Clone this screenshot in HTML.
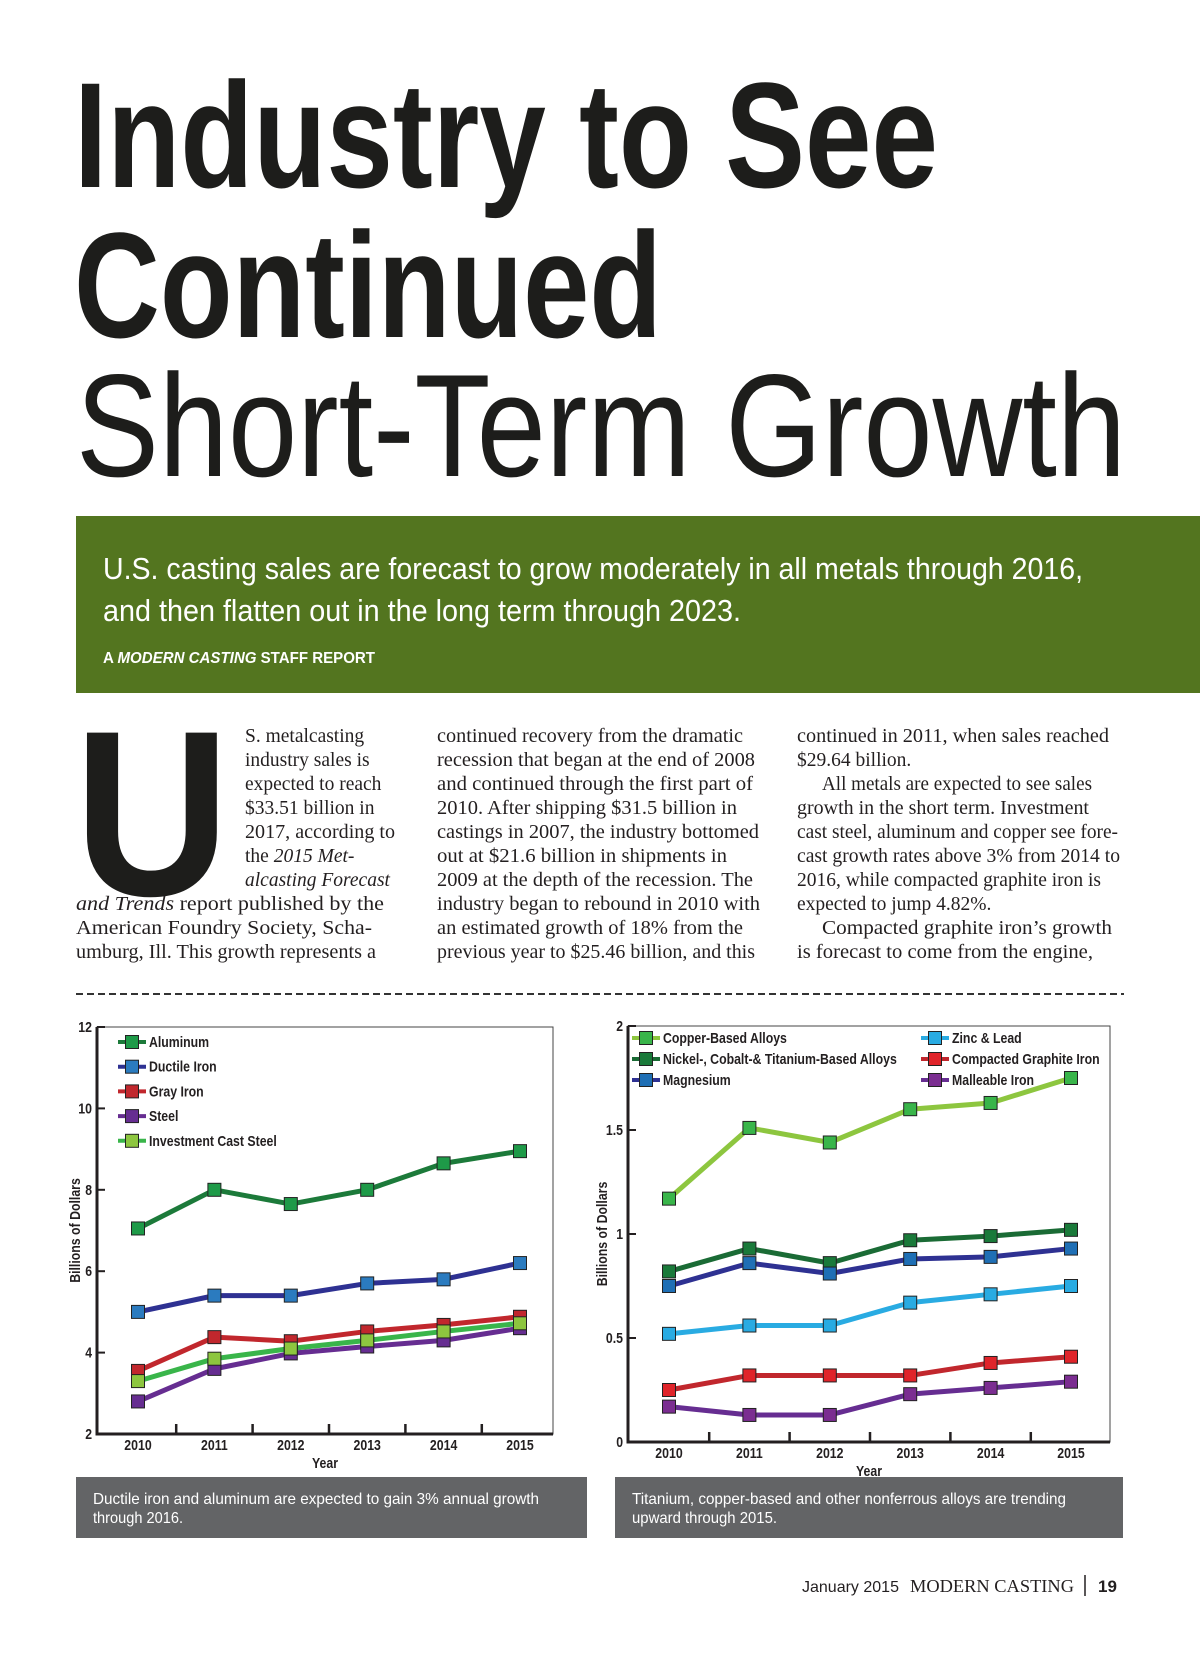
<!DOCTYPE html>
<html><head><meta charset="utf-8"><style>
html,body{margin:0;padding:0;background:#fff;}
svg{display:block;}
.cond{font-family:"Liberation Sans Narrow","Liberation Sans",sans-serif;}
.serif{font-family:"Liberation Serif",serif;font-size:19.5px;fill:#231f20;}
.lbl{font-family:"Liberation Sans Narrow","Liberation Sans",sans-serif;font-weight:bold;font-size:15px;fill:#231f20;}
</style></head><body>
<svg id="page" width="1200" height="1657" viewBox="0 0 1200 1657" xmlns="http://www.w3.org/2000/svg">
<g fill="#1d1d1b">
<text class="cond" x="74" y="187" font-size="150" font-weight="bold" textLength="864" lengthAdjust="spacingAndGlyphs">Industry to See</text>
<text class="cond" x="74" y="337" font-size="150" font-weight="bold" textLength="588" lengthAdjust="spacingAndGlyphs">Continued</text>
<text class="cond" x="76" y="476" font-size="146" textLength="1050" lengthAdjust="spacingAndGlyphs">Short-Term Growth</text>
</g>
<g>
<rect x="76" y="516" width="1124" height="177" fill="#53751f"/>
<text class="cond" x="103" y="579" font-size="31" fill="#fff" textLength="980" lengthAdjust="spacingAndGlyphs">U.S. casting sales are forecast to grow moderately in all metals through 2016,</text>
<text class="cond" x="103" y="621" font-size="31" fill="#fff" textLength="638" lengthAdjust="spacingAndGlyphs">and then flatten out in the long term through 2023.</text>
<text class="cond" x="103" y="663" font-size="16" font-weight="bold" fill="#fff" textLength="272" lengthAdjust="spacingAndGlyphs">A <tspan font-style="italic">MODERN CASTING</tspan> STAFF REPORT</text>
</g>
<g>
<text x="74" y="895" font-family="Liberation Sans,sans-serif" font-weight="bold" font-size="236" fill="#1d1d1b" textLength="156" lengthAdjust="spacingAndGlyphs">U</text>
<g class="serif">
<text x="245" y="742">S. metalcasting</text>
<text x="245" y="766">industry sales is</text>
<text x="245" y="790">expected to reach</text>
<text x="245" y="814">$33.51 billion in</text>
<text x="245" y="838" textLength="150" lengthAdjust="spacingAndGlyphs">2017, according to</text>
<text x="245" y="862">the <tspan font-style="italic">2015 Met-</tspan></text>
<text x="245" y="886" font-style="italic">alcasting Forecast</text>
<text x="76" y="910" textLength="308" lengthAdjust="spacingAndGlyphs"><tspan font-style="italic">and Trends</tspan> report published by the</text>
<text x="76" y="934" textLength="296" lengthAdjust="spacingAndGlyphs">American Foundry Society, Scha-</text>
<text x="76" y="958" textLength="300" lengthAdjust="spacingAndGlyphs">umburg, Ill. This growth represents a</text>
</g>
<g class="serif">
<text x="437" y="742" textLength="306" lengthAdjust="spacingAndGlyphs">continued recovery from the dramatic</text>
<text x="437" y="766" textLength="318" lengthAdjust="spacingAndGlyphs">recession that began at the end of 2008</text>
<text x="437" y="790" textLength="316" lengthAdjust="spacingAndGlyphs">and continued through the first part of</text>
<text x="437" y="814" textLength="300" lengthAdjust="spacingAndGlyphs">2010. After shipping $31.5 billion in</text>
<text x="437" y="838" textLength="322" lengthAdjust="spacingAndGlyphs">castings in 2007, the industry bottomed</text>
<text x="437" y="862" textLength="290" lengthAdjust="spacingAndGlyphs">out at $21.6 billion in shipments in</text>
<text x="437" y="886" textLength="316" lengthAdjust="spacingAndGlyphs">2009 at the depth of the recession. The</text>
<text x="437" y="910" textLength="323" lengthAdjust="spacingAndGlyphs">industry began to rebound in 2010 with</text>
<text x="437" y="934" textLength="306" lengthAdjust="spacingAndGlyphs">an estimated growth of 18% from the</text>
<text x="437" y="958" textLength="318" lengthAdjust="spacingAndGlyphs">previous year to $25.46 billion, and this</text>
</g>
<g class="serif">
<text x="797" y="742" textLength="312" lengthAdjust="spacingAndGlyphs">continued in 2011, when sales reached</text>
<text x="797" y="766">$29.64 billion.</text>
<text x="822" y="790" textLength="270" lengthAdjust="spacingAndGlyphs">All metals are expected to see sales</text>
<text x="797" y="814" textLength="292" lengthAdjust="spacingAndGlyphs">growth in the short term. Investment</text>
<text x="797" y="838" textLength="321" lengthAdjust="spacingAndGlyphs">cast steel, aluminum and copper see fore-</text>
<text x="797" y="862" textLength="323" lengthAdjust="spacingAndGlyphs">cast growth rates above 3% from 2014 to</text>
<text x="797" y="886" textLength="304" lengthAdjust="spacingAndGlyphs">2016, while compacted graphite iron is</text>
<text x="797" y="910">expected to jump 4.82%.</text>
<text x="822" y="934" textLength="290" lengthAdjust="spacingAndGlyphs">Compacted graphite iron’s growth</text>
<text x="797" y="958" textLength="296" lengthAdjust="spacingAndGlyphs">is forecast to come from the engine,</text>
</g>
</g>
<line x1="76" y1="994" x2="1124" y2="994" stroke="#333" stroke-width="2" stroke-dasharray="7,4"/>

<g id="chartL"></g>
<g id="chartR"></g>

<g>
<rect x="76" y="1477" width="511" height="61" fill="#636466"/>
<text class="cond" x="93" y="1504" font-size="16" fill="#fff" textLength="446" lengthAdjust="spacingAndGlyphs">Ductile iron and aluminum are expected to gain 3% annual growth</text>
<text class="cond" x="93" y="1523" font-size="16" fill="#fff" textLength="90" lengthAdjust="spacingAndGlyphs">through 2016.</text>
</g>
<g>
<rect x="615" y="1477" width="508" height="61" fill="#636466"/>
<text class="cond" x="632" y="1504" font-size="16" fill="#fff" textLength="434" lengthAdjust="spacingAndGlyphs">Titanium, copper-based and other nonferrous alloys are trending</text>
<text class="cond" x="632" y="1523" font-size="16" fill="#fff" textLength="145" lengthAdjust="spacingAndGlyphs">upward through 2015.</text>
</g>
<g fill="#231f20">
<text x="802" y="1592" font-family="Liberation Sans,sans-serif" font-size="16">January 2015</text>
<text x="910" y="1592" font-family="Liberation Serif,serif" font-size="18" textLength="164" lengthAdjust="spacingAndGlyphs">MODERN CASTING</text>
<line x1="1085" y1="1575" x2="1085" y2="1596" stroke="#231f20" stroke-width="1.5"/>
<text x="1098" y="1592" font-family="Liberation Sans,sans-serif" font-size="17" font-weight="bold">19</text>
</g>
</svg>
<script>
const years = [2010, 2011, 2012, 2013, 2014, 2015];
const leftNames = ["Aluminum", "Ductile Iron", "Gray Iron", "Steel", "Investment Cast Steel"];
const aluminum = [7.05, 8.0, 7.65, 8.0, 8.65, 8.95];
const ductileIron = [5.0, 5.4, 5.4, 5.7, 5.8, 6.2];
const grayIron = [3.55, 4.38, 4.28, 4.52, 4.68, 4.88];
const steel = [2.8, 3.6, 3.98, 4.15, 4.3, 4.6];
const investmentCastSteel = [3.3, 3.85, 4.1, 4.3, 4.52, 4.72];
const leftTicks = [2, 4, 6, 8, 10, 12];
const rightNames = ["Copper-Based Alloys", "Nickel-, Cobalt-& Titanium-Based Alloys", "Magnesium", "Zinc & Lead", "Compacted Graphite Iron", "Malleable Iron"];
const copperBased = [1.17, 1.51, 1.44, 1.60, 1.63, 1.75];
const nickelCobaltTitanium = [0.82, 0.93, 0.86, 0.97, 0.99, 1.02];
const magnesium = [0.75, 0.86, 0.81, 0.88, 0.89, 0.93];
const zincLead = [0.52, 0.56, 0.56, 0.67, 0.71, 0.75];
const compactedGraphite = [0.25, 0.32, 0.32, 0.32, 0.38, 0.41];
const malleableIron = [0.17, 0.13, 0.13, 0.23, 0.26, 0.29];
const rightTicks = [0, 0.5, 1, 1.5, 2];
const rightTickLabels = ["0", "0.5", "1", "1.5", "2"];

const NS = "http://www.w3.org/2000/svg";
function mk(tag, attrs, parent) {
  const e = document.createElementNS(NS, tag);
  for (const k in attrs) e.setAttribute(k, attrs[k]);
  parent.appendChild(e);
  return e;
}
function slug(s){return s.toLowerCase().replace(/[^a-z0-9]+/g,'-').replace(/^-|-$/g,'');}

function drawChart(g, cfg) {
  const {x0,x1,y0,y1,ymin,ymax,xFirst,xLast,series,lines,marks,names,ticks,tickLabels,titleX,xLabelY,yearY} = cfg;
  const xs = i => xFirst + (xLast - xFirst) * i / (years.length - 1);
  const ys = v => y1 - (v - ymin) / (ymax - ymin) * (y1 - y0);
  const frame = mk("rect", {x:x0, y:y0, width:x1-x0, height:y1-y0, fill:"none", stroke:"#444", "stroke-width":1}, g);
  
  
  const ax = mk("path", {d:`M${x0} ${y0} V${y1} H${x1}`, fill:"none", stroke:"#231f20", "stroke-width":3}, g);
  
  
  ticks.forEach((t, i) => {
    const tk = mk("line", {x1:x0, x2:x0+8, y1:ys(t), y2:ys(t), stroke:"#231f20", "stroke-width":2}, g);
    
    
    const tl = mk("text", {x:x0-5, y:ys(t)+5, "text-anchor":"end", class:"lbl"}, g);
    
    
    tl.textContent = tickLabels[i];
  });
  years.forEach((yr, i) => {
    if (i > 0) {
      const xm = (xs(i) + xs(i-1)) / 2;
      const tk = mk("line", {x1:xm, x2:xm, y1:y1, y2:y1-10, stroke:"#231f20", "stroke-width":2.5}, g);
      
      
    }
    const tl = mk("text", {x:xs(i), y:xLabelY, "text-anchor":"middle", class:"lbl"}, g);
    
    
    tl.textContent = yr;
  });
  const yt = mk("text", {x:(x0+x1)/2, y:yearY, "text-anchor":"middle", class:"lbl", "font-size":16}, g);
  
  
  yt.textContent = "Year";
  const ytt = mk("text", {x:0, y:0, "text-anchor":"middle", class:"lbl", transform:`translate(${titleX},${(y0+y1)/2}) rotate(-90)`}, g);
  
  
  ytt.textContent = "Billions of Dollars";
  series.forEach((vals, s) => {
    const pts = vals.map((v, i) => xs(i) + "," + ys(v)).join(" ");
    const pl = mk("polyline", {points:pts, fill:"none", stroke:lines[s], "stroke-width":5, "stroke-linejoin":"round"}, g);
    
    
  });
  series.forEach((vals, s) => {
    vals.forEach((v, i) => {
      const r = mk("rect", {x:xs(i)-6.5, y:ys(v)-6.5, width:13, height:13, fill:marks[s], stroke:"#222", "stroke-width":1}, g);
      
      
    });
  });
}
function legendEntry(g, x, y, name, lineC, markC) {
  const lg = mk("g", {}, g);
  
  
  mk("line", {x1:x-14, x2:x+14, y1:y, y2:y, stroke:lineC, "stroke-width":4}, lg);
  mk("rect", {x:x-6.5, y:y-6.5, width:13, height:13, fill:markC, stroke:"#222", "stroke-width":1}, lg);
  const t = mk("text", {x:x+17, y:y+5, class:"lbl"}, lg);
  t.textContent = name;
}

const gL = document.getElementById("chartL");
const leftLines = ["#1c7a3a", "#2e3192", "#c1272d", "#662d91", "#39b54a"];
const leftMarks = ["#1e9a48", "#2b7bbf", "#c1272d", "#662d91", "#8dc63f"];
drawChart(gL, {x0:97, x1:553, y0:1027, y1:1434, ymin:2, ymax:12, xFirst:138, xLast:520,
  series:[aluminum, ductileIron, grayIron, steel, investmentCastSteel], lines:leftLines, marks:leftMarks,
  names:leftNames, ticks:leftTicks, tickLabels:leftTicks.map(String), titleX:80, xLabelY:1450, yearY:1468});
leftNames.forEach((n, i) => legendEntry(gL, 132, 1042 + i * 24.7, n, leftLines[i], leftMarks[i]));

const gR = document.getElementById("chartR");
const rightLines = ["#8dc63f", "#1a6b35", "#2e3192", "#29abe2", "#c1272d", "#662d91"];
const rightMarks = ["#39b54a", "#1a7a3a", "#1f6fb5", "#29abe2", "#e0242a", "#7b2d91"];
drawChart(gR, {x0:628, x1:1110, y0:1026, y1:1442, ymin:0, ymax:2, xFirst:669, xLast:1071,
  series:[copperBased, nickelCobaltTitanium, magnesium, zincLead, compactedGraphite, malleableIron], lines:rightLines, marks:rightMarks,
  names:rightNames, ticks:rightTicks, tickLabels:rightTickLabels, titleX:607, xLabelY:1458, yearY:1476});
rightNames.forEach((n, i) => {
  const col = i < 3 ? 0 : 1, row = i % 3;
  legendEntry(gR, col ? 935 : 646, 1038 + row * 21, n, rightLines[i], rightMarks[i]);
});
document.querySelectorAll("text.lbl").forEach(t => {
  const w = t.getComputedTextLength();
  if (w > 0) {
    t.setAttribute("textLength", (w * 0.82).toFixed(1));
    t.setAttribute("lengthAdjust", "spacingAndGlyphs");
  }
});
</script>
</body></html>
